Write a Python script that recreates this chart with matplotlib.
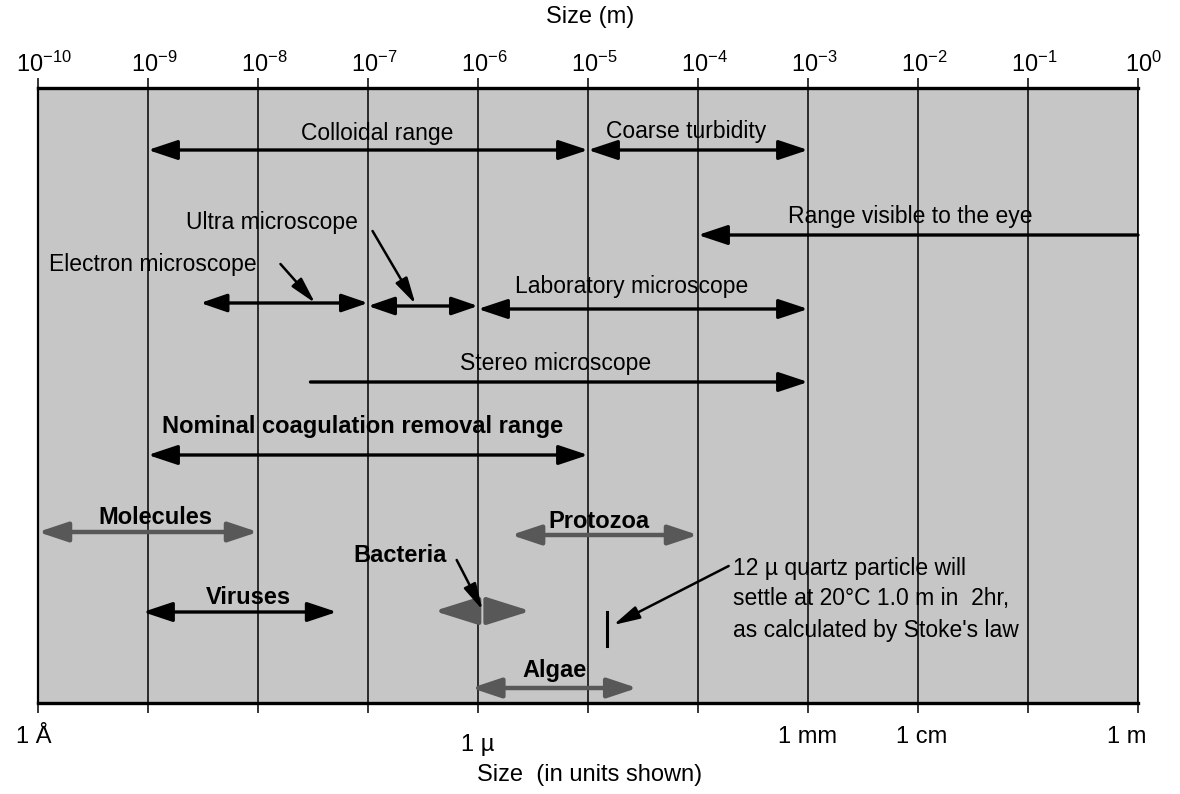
import matplotlib
matplotlib.use("Agg")

import matplotlib.pyplot as plt
import matplotlib.transforms as mtransforms
import numpy as np

plt.rcParams["font.family"] = ["Liberation Sans", "DejaVu Sans"]
plt.rcParams["mathtext.fontset"] = "custom"
plt.rcParams["mathtext.rm"] = "Liberation Sans"
plt.rcParams["mathtext.it"] = "Liberation Sans"
plt.rcParams["mathtext.bf"] = "Liberation Sans:bold"

# ── Data (sizes in metres) ────────────────────────────────────────────
decades = np.arange(-10, 1)
top_labels = [f"$10^{{{d}}}$" for d in decades]

unit_sizes = [1e-10, 1e-6, 1e-3, 1e-2, 1e0]
unit_labels = ["1 Å", "1 µ", "1 mm", "1 cm", "1 m"]

range_names = [
    "Colloidal range", "Coarse turbidity", "Range visible to the eye",
    "Electron microscope", "Ultra microscope", "Laboratory microscope",
    "Stereo microscope", "Nominal coagulation removal range",
    "Molecules", "Protozoa", "Viruses", "Bacteria", "Algae",
]
range_low = [1e-9, 1e-5, 1e-4, 3e-9, 1e-7, 1e-6, 3e-8, 1e-9,
             1e-10, 2e-6, 9e-10, 4.0e-7, 8.7e-7]
range_high = [1e-5, 1e-3, 1e0, 1e-7, 1e-6, 1e-3, 1e-3, 1e-5,
              1e-8, 1e-4, 5.2e-8, 3.0e-6, 2.8e-5]
range_ends = ["both", "both", "left", "both", "both", "both", "right", "both",
              "both", "both", "both", "split", "both"]

quartz_size = 1.5e-5   # drawn position of the 12 µ particle marker
quartz_text = ["12 µ quartz particle will",
               "settle at 20°C 1.0 m in  2hr,",
               "as calculated by Stoke's law"]

# ── Layout (row y in pixel-like units, label placement) ──────────────
row_y = [150, 150, 235, 303, 306, 309, 382, 455, 532, 535, 612, 611, 688]
# label: x position (m), y, ha, bold
label_pos = {
    "Colloidal range": (1.2e-7, 134, "center", False),
    "Coarse turbidity": (7.8e-5, 132, "center", False),
    "Range visible to the eye": (8.5e-3, 217, "center", False),
    "Electron microscope": (1.25e-10, 264, "left", False),
    "Ultra microscope": (1.34e-8, 222, "center", False),
    "Laboratory microscope": (2.5e-5, 287, "center", False),
    "Stereo microscope": (5.1e-6, 364, "center", False),
    "Nominal coagulation removal range": (9.0e-8, 427, "center", True),
    "Molecules": (1.16e-9, 518, "center", True),
    "Protozoa": (1.25e-5, 521, "center", True),
    "Viruses": (8.1e-9, 597, "center", True),
    "Bacteria": (5.2e-7, 555, "right", True),
    "Algae": (5.0e-6, 670, "center", True),
}
gray_ranges = {"Molecules", "Protozoa", "Bacteria", "Algae"}

fig = plt.figure(figsize=(11.8, 7.94), dpi=100)
ax = fig.add_axes([38 / 1180, (794 - 703) / 794, 1100 / 1180, 615 / 794])
ax.set_xscale("log")
ax.set_xlim(1e-10, 1e0)
ax.set_ylim(703, 88)
ax.set_facecolor("#c6c6c6")

for d in decades:
    ax.axvline(10.0 ** d, color="black", lw=1.1, zorder=1)

for side, lw in [("top", 2.4), ("bottom", 2.4), ("left", 1.6), ("right", 1.2)]:
    ax.spines[side].set_linewidth(lw)

ax.set_xticks(10.0 ** decades)
ax.set_xticklabels(top_labels)
ax.xaxis.set_minor_locator(matplotlib.ticker.NullLocator())
ax.tick_params(axis="x", which="major", top=True, labeltop=True,
               bottom=True, labelbottom=False, length=7, width=1.1,
               labelsize=17, pad=1)
ax.set_yticks([])
# base "10" sits over the tick, exponent hangs to the right
shift = mtransforms.ScaledTranslation(6 / 100, 0, fig.dpi_scale_trans)
for lab in ax.get_xticklabels(which="major"):
    lab.set_transform(lab.get_transform() + shift)

fig.text(590 / 1180, 1 - 17 / 794, "Size (m)", ha="center", va="center", fontsize=17)
fig.text(590 / 1180, 1 - 775 / 794, "Size  (in units shown)", ha="center",
         va="center", fontsize=17)

unit_y = [737, 745, 737, 737, 737]
unit_dx = [-4, 0, 0, 4, -11]
for s, lab, yy, dx in zip(unit_sizes, unit_labels, unit_y, unit_dx):
    ax.annotate(lab, xy=(s, 703), xycoords="data", xytext=(dx, -(yy - 703)),
                textcoords="offset pixels", ha="center", va="center",
                fontsize=17, annotation_clip=False)


def arrow(x0, x1, y, style, color, lw, hl, hw):
    ax.annotate("", xy=(x1, y), xytext=(x0, y),
                arrowprops=dict(arrowstyle=f"{style},head_length={hl},head_width={hw}",
                                mutation_scale=10, lw=lw, color=color,
                                shrinkA=0, shrinkB=0),
                annotation_clip=False, zorder=3)


def draw_range(lo, hi, y, ends, color, lw, hl, hw):
    if ends == "split":
        mid = np.sqrt(lo * hi)
        arrow(mid * 0.92, lo, y, "-|>", color, lw, hl, hw)
        arrow(mid * 1.10, hi, y, "-|>", color, lw, hl, hw)
        return
    style = {"both": "<|-|>", "left": "<|-", "right": "-|>"}[ends]
    arrow(lo, hi, y, style, color, lw, hl, hw)


for name, lo, hi, ends, y in zip(range_names, range_low, range_high, range_ends, row_y):
    if name in gray_ranges:
        color, lw = "#585858", 3.2
    else:
        color, lw = "black", 2.4
    hl, hw = 1.8, 0.6
    if name == "Bacteria":
        hl, hw = 2.7, 0.85
    if name in ("Ultra microscope", "Electron microscope"):
        hl, hw = 1.6, 0.55
    draw_range(lo, hi, y, ends, color, lw, hl, hw)
    lx, ly, ha, bold = label_pos[name]
    ax.text(lx, ly, name, ha=ha, va="center",
            fontsize=17 if bold else 16.5,
            fontweight="bold" if bold else "normal", zorder=4)

# pointers
pointers = [
    ((1.6e-8, 264), (3.3e-8, 303)),   # electron microscope
    ((1.1e-7, 231), (2.7e-7, 304)),   # ultra microscope
    ((6.4e-7, 560), (1.1e-6, 610)),   # bacteria
    ((1.9e-4, 566), (1.7e-5, 625)),   # quartz particle
]
for (tail, head) in pointers:
    ax.annotate("", xy=head, xytext=tail,
                arrowprops=dict(arrowstyle="-|>,head_length=1.6,head_width=0.4",
                                mutation_scale=10, lw=1.8, color="black",
                                shrinkA=0, shrinkB=0), zorder=5)

ax.plot([quartz_size, quartz_size], [612, 646], color="black", lw=2.2, zorder=4)
for i, line in enumerate(quartz_text):
    ax.text(2.1e-4, 568 + 31 * i, line, ha="left", va="center", fontsize=16.5, zorder=4)

fig.savefig("out.png", dpi=100)
